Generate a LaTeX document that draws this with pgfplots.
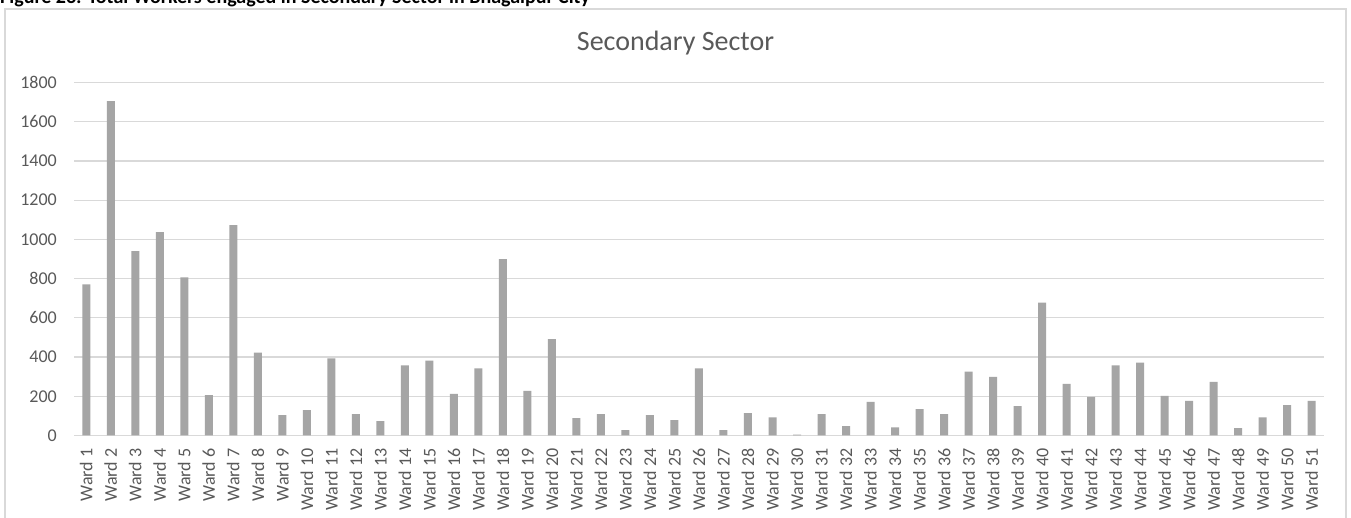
\documentclass[border=0pt]{standalone}
\usepackage{pgfplots}
\pgfplotsset{compat=1.18}
\usepackage{pgfplotstable}
\usepackage{fontspec}
\setmainfont{Carlito}

\definecolor{barGray}{HTML}{A5A5A5}
\definecolor{gridGray}{HTML}{D9D9D9}
\definecolor{frameGray}{HTML}{D9D9D9}
\definecolor{textGray}{HTML}{595959}

% Workers engaged in the secondary sector, by ward
\pgfplotstableread{
ward workers
1 770
2 1705
3 940
4 1037
5 806
6 206
7 1073
8 423
9 104
10 129
11 393
12 109
13 73
14 357
15 382
16 212
17 342
18 899
19 228
20 491
21 88
22 109
23 27
24 104
25 78
26 342
27 27
28 114
29 93
30 5
31 109
32 48
33 172
34 42
35 134
36 109
37 326
38 299
39 150
40 677
41 263
42 197
43 357
44 372
45 202
46 177
47 274
48 37
49 93
50 155
51 177
}\secondary

\begin{document}
\begin{tikzpicture}
\clip (0pt,0pt) rectangle (1351pt,518pt);
\fill[white] (0pt,0pt) rectangle (1351pt,518pt);
% chart frame
\draw[frameGray, line width=1.3pt] (5pt,-30pt) rectangle (1346pt,509pt);
% figure caption
\node[anchor=base west, inner sep=0pt, font=\fontsize{20}{24}\selectfont\bfseries]
  at (0pt,514pt) {Figure 23: Total Workers engaged in Secondary Sector in Bhagalpur City};
% chart title
\node[anchor=base, inner sep=0pt, text=textGray, font=\fontsize{28}{32}\selectfont]
  at (675.5pt,467pt) {Secondary Sector};
\begin{axis}[
  at={(74pt,82.5pt)}, anchor=south west,
  scale only axis, width=1250pt, height=353pt,
  xmin=0.5, xmax=51.5, ymin=0, ymax=1800,
  ybar, bar width=8pt,
  axis line style={draw=none},
  major tick length=0pt,
  ytick={0,200,...,1800},
  ymajorgrids,
  major grid style={gridGray, line width=1.3pt},
  xtick={1,...,51},
  xticklabels={Ward 1,Ward 2,Ward 3,Ward 4,Ward 5,Ward 6,Ward 7,Ward 8,Ward 9,Ward 10,
    Ward 11,Ward 12,Ward 13,Ward 14,Ward 15,Ward 16,Ward 17,Ward 18,Ward 19,Ward 20,
    Ward 21,Ward 22,Ward 23,Ward 24,Ward 25,Ward 26,Ward 27,Ward 28,Ward 29,Ward 30,
    Ward 31,Ward 32,Ward 33,Ward 34,Ward 35,Ward 36,Ward 37,Ward 38,Ward 39,Ward 40,
    Ward 41,Ward 42,Ward 43,Ward 44,Ward 45,Ward 46,Ward 47,Ward 48,Ward 49,Ward 50,
    Ward 51},
  ticklabel style={text=textGray, font=\fontsize{18}{20}\selectfont},
  /pgf/number format/assume math mode=true,
  /pgf/number format/1000 sep={},
  scaled y ticks=false,
  yticklabel style={anchor=east, inner sep=0pt, xshift=-17pt},
  xticklabel style={yshift=-13pt, rotate=90, anchor=east, inner sep=0pt},
]
\addplot[fill=barGray, draw=none] table[x=ward, y=workers] {\secondary};
\end{axis}
\end{tikzpicture}
\end{document}
